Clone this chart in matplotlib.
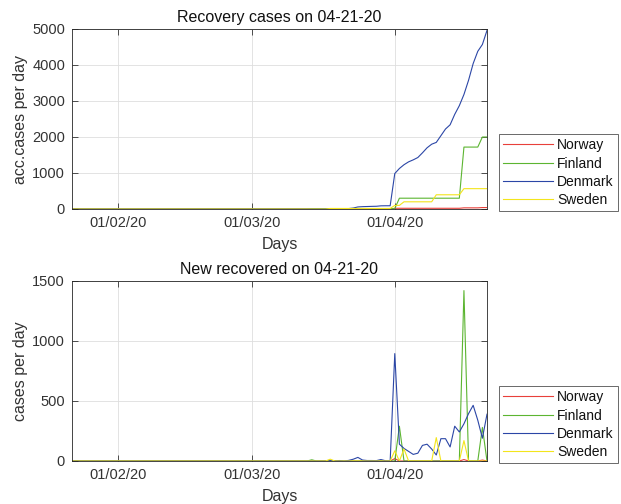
import numpy as np
import pandas as pd
import matplotlib
matplotlib.use("Agg")
import matplotlib.pyplot as plt
import matplotlib.dates as mdates

plt.rcParams["font.family"] = ["Liberation Sans", "DejaVu Sans"]

# Dates: 22 Jan 2020 .. 21 Apr 2020 (91 days)
dates = pd.date_range("2020-01-22", "2020-04-21", freq="D")
countries = ["Norway", "Finland", "Denmark", "Sweden"]
colors = ["#e8403a", "#5cb531", "#2b46a6", "#f3e51c"]

# New recovered per day (first 52 days are zero)
norway_new = [0] * 52 + [0, 0, 0, 0, 0, 0, 0, 0, 0, 0,   # 52-61
                         0, 0, 0, 0, 0, 0, 0, 0, 20, 0,  # 62-71
                         0, 0, 0, 0, 0, 0, 0, 0, 0, 0,   # 72-81
                         0, 0, 0, 12, 0, 0, 0, 8, 0]     # 82-90
finland_new = [0] * 52 + [10, 0, 0, 0, 0, 0, 0, 0, 0, 0,
                          0, 0, 0, 0, 0, 0, 0, 0, 0, 290,
                          0, 0, 0, 0, 0, 0, 0, 0, 0, 0,
                          0, 0, 0, 1420, 0, 0, 0, 280, 0]
denmark_new = [0] * 52 + [0, 0, 0, 0, 3, 0, 4, 0, 5, 15,
                          30, 8, 4, 4, 3, 12, 2, 0, 895, 140,
                          105, 80, 55, 65, 130, 140, 100, 50, 186, 186,
                          117, 290, 242, 310, 395, 464, 340, 190, 390]
sweden_new = [0] * 52 + [0, 0, 0, 0, 15, 0, 0, 0, 0, 0,
                         0, 0, 0, 0, 0, 0, 0, 0, 85, 0,
                         100, 0, 0, 0, 0, 0, 0, 195, 0, 0,
                         0, 0, 0, 170, 0, 0, 0, 0, 0]

new_rec = [norway_new, finland_new, denmark_new, sweden_new]
acc_rec = [np.cumsum(v) for v in new_rec]

fig = plt.figure(figsize=(6.21, 5.04), dpi=100)
ax1 = fig.add_axes([72 / 621, 295 / 504, 415 / 621, 180 / 504])
ax2 = fig.add_axes([72 / 621, 43 / 504, 415 / 621, 180 / 504])

dark = "#333333"


def style(ax, ylim, yticks, ylabel, title, legend_bottom):
    ax.set_xlim(dates[0], dates[-1])
    ax.set_ylim(*ylim)
    ax.set_yticks(yticks)
    ax.set_xticks(pd.to_datetime(["2020-02-01", "2020-03-01", "2020-04-01"]))
    ax.xaxis.set_major_formatter(mdates.DateFormatter("%d/%m/%y"))
    ax.grid(True, color="#dedede", linewidth=0.6)
    ax.set_axisbelow(True)
    ax.tick_params(direction="in", length=4, width=0.6, colors=dark,
                   labelsize=10.5, top=True, right=True, pad=5)
    for s in ax.spines.values():
        s.set_color("#262626")
        s.set_linewidth(0.6)
    ax.set_xlabel("Days", fontsize=11.5, color=dark, labelpad=5)
    ax.set_ylabel(ylabel, fontsize=11.5, color=dark, labelpad=3)
    ax.set_title(title, fontsize=11.5, color="#111111", pad=5)
    leg = ax.legend(loc="lower left", bbox_to_anchor=(499 / 621, legend_bottom),
                    bbox_transform=fig.transFigure, borderaxespad=0,
                    fancybox=False, edgecolor="#262626", fontsize=10,
                    handlelength=3.6, handletextpad=0.3, labelspacing=0.3,
                    borderpad=0.3)
    leg.get_frame().set_linewidth(0.6)
    for t in leg.get_texts():
        t.set_color("#111111")


for name, col, acc, new in zip(countries, colors, acc_rec, new_rec):
    ax1.plot(dates, acc, color=col, linewidth=0.8, label=name)
    ax2.plot(dates, new, color=col, linewidth=0.8, label=name)

style(ax1, (0, 5000), [0, 1000, 2000, 3000, 4000, 5000], "acc.cases per day",
      "Recovery cases on 04-21-20", 293 / 504)
style(ax2, (0, 1500), [0, 500, 1000, 1500], "cases per day",
      "New recovered on 04-21-20", 41 / 504)

fig.savefig("out.png", dpi=100)
